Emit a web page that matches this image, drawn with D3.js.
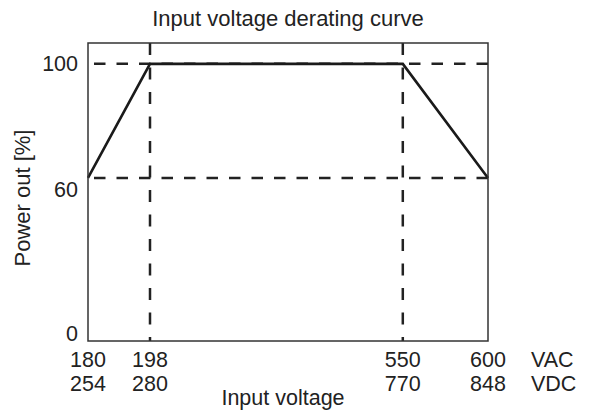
<!DOCTYPE html>
<html>
<head>
<meta charset="utf-8">
<script src="https://cdn.jsdelivr.net/npm/d3@7"></script>
<style>
  body { margin: 0; background: #fff; }
  svg text { font-family: "Liberation Sans", Arial, sans-serif; fill: #222; }
</style>
</head>
<body>
<div id="chart"></div>
<script>
// Derating curve points (VAC input vs. power out %)
const voltageAC = [180, 198, 550, 600];
const voltageDC = [254, 280, 770, 848];
const powerOut = [60, 100, 100, 60];
const yTicks = [0, 60, 100];
const refLinesY = [60, 100];
const refLinesX = [198, 550];

const width = 589;
const height = 414;
const margin = { top: 43, right: 101, bottom: 73, left: 88 };
const plotW = width - margin.left - margin.right;
const plotH = height - margin.top - margin.bottom;

const svg = d3.select("#chart")
    .append("svg")
    .attr("width", width)
    .attr("height", height);

// The x axis is schematic: break points are not spaced linearly
const x = d3.scaleLinear()
    .domain(voltageAC)
    .range([0, 0.155, 0.787, 1].map(f => margin.left + f * plotW));

// The y axis is schematic too
const y = d3.scaleLinear()
    .domain([0, 60, 100])
    .range([0, 0.547, 0.93].map(f => margin.top + plotH - f * plotH));

const g = svg.append("g");

// Dashed reference lines
g.selectAll("line.hdash")
    .data(refLinesY)
    .enter()
    .append("line")
    .attr("x1", margin.left)
    .attr("x2", margin.left + plotW)
    .attr("y1", d => y(d))
    .attr("y2", d => y(d))
    .attr("stroke", "#222")
    .attr("stroke-width", 2.5)
    .attr("stroke-dasharray", "11.5,11")
    .attr("stroke-dashoffset", -6);

g.selectAll("line.vdash")
    .data(refLinesX)
    .enter()
    .append("line")
    .attr("x1", d => x(d))
    .attr("x2", d => x(d))
    .attr("y1", margin.top)
    .attr("y2", margin.top + plotH)
    .attr("stroke", "#222")
    .attr("stroke-width", 2.5)
    .attr("stroke-dasharray", "12,12.5");

// Frame
svg.append("rect")
    .attr("x", margin.left)
    .attr("y", margin.top)
    .attr("width", plotW)
    .attr("height", plotH)
    .attr("fill", "none")
    .attr("stroke", "#333")
    .attr("stroke-width", 1.5);

// Curve
const line = d3.line()
    .x((d, i) => x(voltageAC[i]))
    .y(d => y(d));

g.append("path")
    .datum(powerOut)
    .attr("d", line)
    .attr("fill", "none")
    .attr("stroke", "#1a1a1a")
    .attr("stroke-width", 2.6)
    .attr("stroke-linejoin", "miter");

// Y tick labels (schematic offsets like the original)
const yLabelDy = { 0: -8, 60: 11, 100: 0 };
svg.selectAll("text.ytick")
    .data(yTicks)
    .enter()
    .append("text")
    .attr("x", margin.left - 10)
    .attr("y", d => y(d) + yLabelDy[d])
    .attr("dy", "0.35em")
    .attr("text-anchor", "end")
    .attr("font-size", "21.5px")
    .text(d => d);

// X tick labels: two rows (VAC and VDC)
const rows = [
    { values: voltageAC, unit: "VAC", yPos: height - 47 },
    { values: voltageDC, unit: "VDC", yPos: height - 23 }
];
rows.forEach(row => {
    svg.selectAll(null)
        .data(row.values)
        .enter()
        .append("text")
        .attr("x", (d, i) => x(voltageAC[i]))
        .attr("y", row.yPos)
        .attr("text-anchor", "middle")
        .attr("font-size", "21.5px")
        .text(d => d);

    svg.append("text")
        .attr("x", 531)
        .attr("y", row.yPos)
        .attr("font-size", "21.5px")
        .text(row.unit);
});

// Axis titles
svg.append("text")
    .attr("x", 283)
    .attr("y", height - 9)
    .attr("text-anchor", "middle")
    .attr("font-size", "21.5px")
    .text("Input voltage");

svg.append("text")
    .attr("transform", `translate(30, ${margin.top + plotH / 2 + 6}) rotate(-90)`)
    .attr("text-anchor", "middle")
    .attr("font-size", "22px")
    .text("Power out [%]");

svg.append("text")
    .attr("x", 288)
    .attr("y", 26)
    .attr("text-anchor", "middle")
    .attr("font-size", "22px")
    .text("Input voltage derating curve");
</script>
</body>
</html>
